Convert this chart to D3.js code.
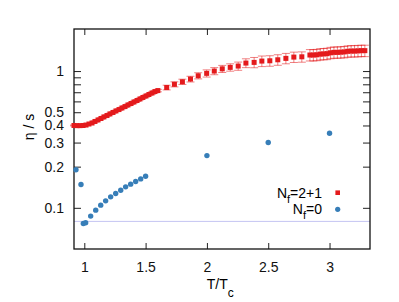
<!DOCTYPE html>
<html>
<head>
<meta charset="utf-8">
<script src="https://cdn.jsdelivr.net/npm/d3@7"></script>
<style>
  body { margin: 0; background: #fff; }
  svg { display: block; }
  text { font-family: "Liberation Sans", Arial, sans-serif; }
</style>
</head>
<body>
<svg id="chart" width="399" height="302"></svg>
<script>
// N_f = 2+1 (red squares with error bars)
const tempNf21 = [
  0.916, 0.94, 0.965, 0.99, 1.014, 1.038, 1.063, 1.087, 1.112, 1.136,
  1.16, 1.185, 1.209, 1.234, 1.258, 1.283, 1.307, 1.332, 1.356, 1.381,
  1.405, 1.43, 1.454, 1.478, 1.503, 1.527, 1.552, 1.576, 1.6,
  1.672, 1.735, 1.80, 1.866, 1.929, 1.998, 2.06, 2.125, 2.19, 2.255,
  2.318, 2.385, 2.448, 2.513, 2.578, 2.644, 2.709, 2.774,
  2.84, 2.868, 2.896, 2.924, 2.952, 2.98, 3.008, 3.036, 3.064, 3.092,
  3.12, 3.148, 3.176, 3.204, 3.232, 3.26, 3.288
]
const etaNf21 = [
  0.400, 0.399, 0.399, 0.400, 0.403, 0.410, 0.417, 0.428, 0.439, 0.450,
  0.462, 0.473, 0.486, 0.498, 0.511, 0.523, 0.537, 0.550, 0.565, 0.579,
  0.594, 0.609, 0.625, 0.641, 0.657, 0.674, 0.691, 0.708, 0.720,
  0.758, 0.800, 0.835, 0.874, 0.924, 0.962, 1.000, 1.038, 1.064, 1.088,
  1.144, 1.157, 1.183, 1.189, 1.209, 1.238, 1.265, 1.271,
  1.31, 1.31, 1.315, 1.33, 1.335, 1.34, 1.36, 1.37, 1.37, 1.375,
  1.38, 1.395, 1.40, 1.40, 1.405, 1.41, 1.41
]
const errNf21 = [
  0.003, 0.003, 0.003, 0.003, 0.003, 0.003, 0.004, 0.004, 0.004, 0.005,
  0.005, 0.005, 0.006, 0.006, 0.006, 0.007, 0.007, 0.008, 0.008, 0.009,
  0.009, 0.010, 0.010, 0.011, 0.012, 0.012, 0.013, 0.014, 0.015,
  0.030, 0.034, 0.037, 0.042, 0.048, 0.058, 0.060, 0.062, 0.066, 0.075,
  0.085, 0.100, 0.105, 0.105, 0.107, 0.108, 0.110, 0.110,
  0.125, 0.125, 0.125, 0.127, 0.127, 0.128, 0.130, 0.130, 0.130, 0.131,
  0.132, 0.133, 0.134, 0.134, 0.135, 0.135, 0.135
]

// N_f = 0 (blue circles)
const tempNf0 = [0.932, 0.973, 0.992, 1.011, 1.052, 1.093, 1.134, 1.174, 1.215, 1.256,
  1.297, 1.337, 1.378, 1.419, 1.46, 1.50, 2.0, 2.5, 3.0]
const etaNf0 = [0.190, 0.148, 0.0768, 0.0777, 0.087, 0.0962, 0.1046, 0.1125, 0.1203, 0.1272,
  0.1346, 0.1423, 0.149, 0.1556, 0.1628, 0.1703, 0.241, 0.300, 0.351]

const kssBound = 1 / (4 * Math.PI)

const xTicks = [1, 1.5, 2, 2.5, 3]
const yTicks = [0.1, 0.2, 0.3, 0.4, 0.5, 0.6, 0.7, 0.8, 0.9, 1]
const yLabels = [0.1, 0.2, 0.3, 0.4, 0.5, 1]

const margin = { top: 29, right: 29, bottom: 53, left: 74 }
const width = 399, height = 302
const red = '#e41a1c', blue = '#377eb8'

const svg = d3.select('#chart')

const x = d3.scaleLinear().domain([0.916, 3.33]).range([margin.left, width - margin.right])
const y = d3.scaleLog().domain([0.05, 2.03]).range([height - margin.bottom, margin.top])

// KSS line
svg.append('line')
  .attr('x1', x.range()[0]).attr('x2', x.range()[1])
  .attr('y1', y(kssBound)).attr('y2', y(kssBound))
  .attr('stroke', '#c4c4f2').attr('stroke-width', 1)

// axes (ticks point inward)
const fmt = d => yLabels.includes(d) ? String(d) : ''
const axisStyle = g => {
  g.select('.domain').remove()
  g.selectAll('line').attr('stroke', '#222').attr('stroke-width', 1)
  g.selectAll('text').style('font-size', '14px').attr('fill', '#111')
}
svg.append('g').attr('transform', `translate(${margin.left},0)`)
  .call(d3.axisLeft(y).tickValues(yTicks).tickFormat(fmt).tickSizeInner(-7).tickSizeOuter(0).tickPadding(10))
  .call(axisStyle)
svg.append('g').attr('transform', `translate(${width - margin.right},0)`)
  .call(d3.axisRight(y).tickValues(yTicks).tickFormat('').tickSizeInner(-7).tickSizeOuter(0))
  .call(axisStyle)
svg.append('g').attr('transform', `translate(0,${height - margin.bottom})`)
  .call(d3.axisBottom(x).tickValues(xTicks).tickFormat(d => String(d)).tickSizeInner(-6).tickSizeOuter(0).tickPadding(13))
  .call(axisStyle)
svg.append('g').attr('transform', `translate(0,${margin.top})`)
  .call(d3.axisTop(x).tickValues(xTicks).tickFormat('').tickSizeInner(-6).tickSizeOuter(0))
  .call(axisStyle)

// frame
svg.append('rect')
  .attr('x', margin.left).attr('y', margin.top)
  .attr('width', width - margin.left - margin.right)
  .attr('height', height - margin.top - margin.bottom)
  .attr('fill', 'none').attr('stroke', '#111').attr('stroke-width', 1.3)

// error bars for N_f = 2+1
const nf21 = tempNf21.map((t, i) => ({ t, v: etaNf21[i], e: errNf21[i] }))
const capW = 4
const eb = svg.append('g').attr('stroke', red).attr('stroke-opacity', 0.55).attr('stroke-width', 1)
nf21.forEach(d => {
  const cx = x(d.t), y0 = y(d.v - d.e), y1 = y(d.v + d.e)
  eb.append('line').attr('x1', cx).attr('x2', cx).attr('y1', y0).attr('y2', y1)
  eb.append('line').attr('x1', cx - capW).attr('x2', cx + capW).attr('y1', y0).attr('y2', y0)
  eb.append('line').attr('x1', cx - capW).attr('x2', cx + capW).attr('y1', y1).attr('y2', y1)
})

const sq = 5
svg.append('g').selectAll('rect')
  .data(nf21)
  .join('rect')
  .attr('x', d => x(d.t) - sq / 2)
  .attr('y', d => y(d.v) - sq / 2)
  .attr('width', sq).attr('height', sq)
  .attr('fill', red)

svg.append('g').selectAll('circle')
  .data(tempNf0.map((t, i) => ({ t, v: etaNf0[i] })))
  .join('circle')
  .attr('cx', d => x(d.t))
  .attr('cy', d => y(d.v))
  .attr('r', 2.7)
  .attr('fill', blue)

// legend
const legX = 322
const t1 = svg.append('text').attr('x', legX).attr('y', 197.5).attr('text-anchor', 'end').style('font-size', '14px')
t1.append('tspan').text('N')
t1.append('tspan').attr('dy', 5).style('font-size', '11px').text('f')
t1.append('tspan').attr('dy', -5).text('=2+1')
svg.append('rect').attr('x', 337.7 - 2.3).attr('y', 192.7 - 2.3).attr('width', 4.6).attr('height', 4.6).attr('fill', red)

const t2 = svg.append('text').attr('x', legX).attr('y', 213.5).attr('text-anchor', 'end').style('font-size', '14px')
t2.append('tspan').text('N')
t2.append('tspan').attr('dy', 5).style('font-size', '11px').text('f')
t2.append('tspan').attr('dy', -5).text('=0')
svg.append('circle').attr('cx', 337.7).attr('cy', 209.3).attr('r', 2.6).attr('fill', blue)

// axis titles
const xl = svg.append('text').attr('x', 206.7).attr('y', 288.5).style('font-size', '14px')
xl.append('tspan').text('T/T')
xl.append('tspan').attr('dy', 8).style('font-size', '12px').text('c')

svg.append('text')
  .attr('transform', 'translate(34,127) rotate(-90)')
  .attr('text-anchor', 'middle')
  .style('font-size', '14px')
  .text('η / s')
</script>
</body>
</html>
